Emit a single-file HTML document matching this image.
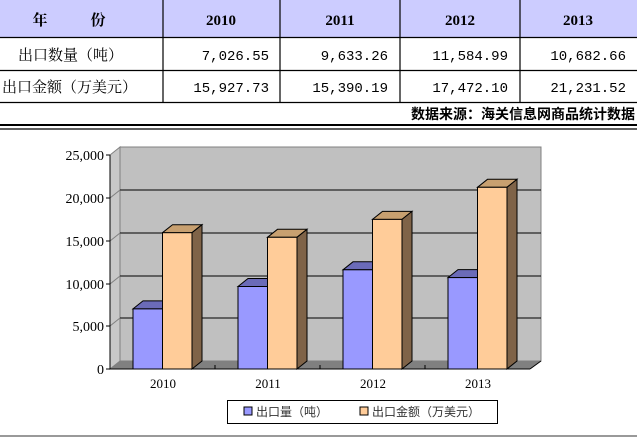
<!DOCTYPE html>
<html><head><meta charset="utf-8"><style>
body{margin:0;width:637px;height:438px;background:#fff;overflow:hidden}
svg{display:block}
.t{font-family:"Liberation Serif","Noto Serif CJK SC",serif}
.c{font-family:"Liberation Sans","Noto Sans CJK SC",sans-serif}
</style></head><body>
<svg width="637" height="438" viewBox="0 0 637 438" xmlns="http://www.w3.org/2000/svg">
<rect x="0" y="0" width="637" height="37" fill="#ccccff"/>
<g stroke="#000" stroke-width="1.2">
<line x1="0" y1="37.5" x2="637" y2="37.5"/>
<line x1="0" y1="70.5" x2="637" y2="70.5"/>
<line x1="0" y1="102.5" x2="637" y2="102.5"/>
<line x1="163" y1="0" x2="163" y2="103"/>
<line x1="280" y1="0" x2="280" y2="103"/>
<line x1="400" y1="0" x2="400" y2="103"/>
<line x1="520" y1="0" x2="520" y2="103"/>
<line x1="0" y1="125" x2="637" y2="125" stroke-width="2"/>
<line x1="0" y1="129" x2="637" y2="129"/>
</g>
<g font-family="'Liberation Serif','Noto Serif CJK SC',serif" font-size="15" font-weight="bold" text-anchor="middle">
<text x="40" y="25">年</text><text x="98" y="25">份</text>
<text x="221" y="25">2010</text><text x="340" y="25">2011</text><text x="460" y="25">2012</text><text x="578" y="25">2013</text>
</g>
<g font-family="'Liberation Serif','Noto Serif CJK SC',serif" font-size="15">
<text x="18" y="60">出口数量（吨）</text>
<text x="2" y="92">出口金额（万美元）</text>
</g>
<g font-family="'Liberation Mono','Noto Sans CJK SC',monospace" font-size="14" text-anchor="end">
<text x="269" y="60">7,026.55</text><text x="388" y="60">9,633.26</text><text x="508" y="60">11,584.99</text><text x="626" y="60">10,682.66</text>
<text x="269" y="92">15,927.73</text><text x="388" y="92">15,390.19</text><text x="508" y="92">17,472.10</text><text x="626" y="92">21,231.52</text>
</g>
<text class="c" x="635" y="119" font-size="14" font-weight="bold" text-anchor="end">数据来源：海关信息网商品统计数据</text>
<polygon points="120,147 541,147 541,361 120,361" fill="#c0c0c0" stroke="#808080"/>
<polygon points="110,155 120,147 120,361 110,369" fill="#c8c8c8" stroke="#808080"/>
<polygon points="110,369 120,361 541,361 530,369" fill="#808080"/>
<g stroke="#000" stroke-width="1">
<line x1="120" y1="190" x2="541" y2="190"/>
<line x1="120" y1="233" x2="541" y2="233"/>
<line x1="120" y1="276" x2="541" y2="276"/>
<line x1="120" y1="318" x2="541" y2="318"/>
</g>
<g stroke="#808080" stroke-width="1">
<line x1="110" y1="198" x2="120" y2="190"/>
<line x1="110" y1="241" x2="120" y2="233"/>
<line x1="110" y1="284" x2="120" y2="276"/>
<line x1="110" y1="326" x2="120" y2="318"/>
</g>
<g stroke="#000" stroke-width="1">
<line x1="110" y1="155" x2="110" y2="369"/>
<line x1="110" y1="369" x2="530" y2="369"/>
<line x1="530" y1="369" x2="541" y2="361"/>
<line x1="106" y1="155" x2="110" y2="155"/><line x1="106" y1="198" x2="110" y2="198"/>
<line x1="106" y1="241" x2="110" y2="241"/><line x1="106" y1="284" x2="110" y2="284"/>
<line x1="106" y1="326" x2="110" y2="326"/><line x1="106" y1="369" x2="110" y2="369"/>
<line x1="215" y1="365" x2="215" y2="369"/><line x1="320" y1="365" x2="320" y2="369"/><line x1="425" y1="365" x2="425" y2="369"/>
</g>
<g class="t" font-size="14" text-anchor="end">
<text x="104" y="160">25,000</text><text x="104" y="203">20,000</text><text x="104" y="246">15,000</text>
<text x="104" y="289">10,000</text><text x="104" y="331">5,000</text><text x="104" y="374">0</text>
</g>
<g class="t" font-size="13" text-anchor="middle">
<text x="163" y="388">2010</text><text x="268" y="388">2011</text><text x="373" y="388">2012</text><text x="478" y="388">2013</text>
</g>
<g stroke="#000" stroke-width="1">
<polygon points="133,308.9 143,300.9 172.5,300.9 162.5,308.9" fill="#6b6bb8"/>
<rect x="133" y="308.9" width="29.5" height="60.1" fill="#9999ff"/>
<polygon points="162.5,232.7 172.5,224.7 202,224.7 192,232.7" fill="#c8a070"/>
<polygon points="192,232.7 202,224.7 202,361 192,369" fill="#7f6348"/>
<rect x="162.5" y="232.7" width="29.5" height="136.3" fill="#ffcc99"/>
<polygon points="238,286.5 248,278.5 277.5,278.5 267.5,286.5" fill="#6b6bb8"/>
<rect x="238" y="286.5" width="29.5" height="82.5" fill="#9999ff"/>
<polygon points="267.5,237.3 277.5,229.3 307,229.3 297,237.3" fill="#c8a070"/>
<polygon points="297,237.3 307,229.3 307,361 297,369" fill="#7f6348"/>
<rect x="267.5" y="237.3" width="29.5" height="131.7" fill="#ffcc99"/>
<polygon points="343,269.8 353,261.8 382.5,261.8 372.5,269.8" fill="#6b6bb8"/>
<rect x="343" y="269.8" width="29.5" height="99.2" fill="#9999ff"/>
<polygon points="372.5,219.4 382.5,211.4 412,211.4 402,219.4" fill="#c8a070"/>
<polygon points="402,219.4 412,211.4 412,361 402,369" fill="#7f6348"/>
<rect x="372.5" y="219.4" width="29.5" height="149.6" fill="#ffcc99"/>
<polygon points="448,277.6 458,269.6 487.5,269.6 477.5,277.6" fill="#6b6bb8"/>
<rect x="448" y="277.6" width="29.5" height="91.4" fill="#9999ff"/>
<polygon points="477.5,187.3 487.5,179.3 517,179.3 507,187.3" fill="#c8a070"/>
<polygon points="507,187.3 517,179.3 517,361 507,369" fill="#7f6348"/>
<rect x="477.5" y="187.3" width="29.5" height="181.7" fill="#ffcc99"/>
</g>
<rect x="227.5" y="400.5" width="270" height="23" fill="#fff" stroke="#000"/>
<rect x="244" y="407" width="8" height="8" fill="#9999ff" stroke="#000"/>
<text class="c" x="256" y="416" font-size="12" fill="#333">出口量（吨）</text>
<rect x="360" y="407" width="8" height="8" fill="#ffcc99" stroke="#000"/>
<text class="c" x="372" y="416" font-size="12" fill="#333">出口金额（万美元）</text>
<line x1="0" y1="436" x2="637" y2="436" stroke="#999" stroke-width="2"/>
</svg>
</body></html>
